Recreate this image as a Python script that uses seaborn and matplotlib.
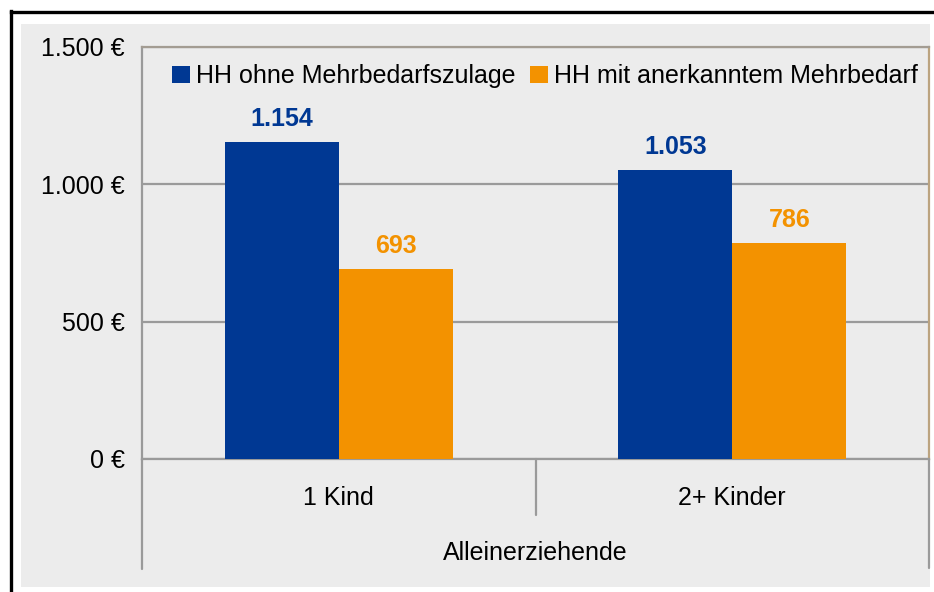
import pandas as pd
import matplotlib.pyplot as plt
import seaborn as sns
from matplotlib.lines import Line2D
from matplotlib.patches import Rectangle
from matplotlib.ticker import FuncFormatter

# Data
categories = ['1 Kind', '2+ Kinder']
series = ['HH ohne Mehrbedarfszulage', 'HH mit anerkanntem Mehrbedarf']
ohne_mehrbedarf = [1154, 1053]
mit_mehrbedarf = [693, 786]
yticks = [0, 500, 1000, 1500]
group_label = 'Alleinerziehende'

colors = ['#003893', '#f39200']
FS = 18

df = pd.DataFrame({
    'Kategorie': categories * 2,
    'Gruppe': [series[0]] * len(categories) + [series[1]] * len(categories),
    'Wert': ohne_mehrbedarf + mit_mehrbedarf,
})

sns.set_theme(style="white")
plt.rcParams['font.family'] = ['Liberation Sans', 'DejaVu Sans']
plt.rcParams['text.color'] = 'black'
plt.rcParams['xtick.color'] = 'black'
plt.rcParams['ytick.color'] = 'black'

W, H = 934, 592
fig = plt.figure(figsize=(W / 100, H / 100), dpi=100)
fig.patch.set_facecolor('white')


def fx(px):
    return px / W


def fy(py):
    return 1 - py / H


# grey panel and black frame
fig.add_artist(Rectangle((fx(21), fy(587)), fx(930) - fx(21), fy(24) - fy(587),
                         transform=fig.transFigure, facecolor='#ececec',
                         edgecolor='none', zorder=0))
fig.add_artist(Line2D([fx(10.5), fx(10.5)], [fy(11), 0], color='black', lw=2.4,
                      solid_capstyle='projecting'))
fig.add_artist(Line2D([fx(10.5), 1], [fy(11.5), fy(11.5)], color='black', lw=2.4,
                      solid_capstyle='projecting'))

ax = fig.add_axes([fx(142), fy(459), fx(929) - fx(142), fy(47) - fy(459)])
ax.set_facecolor('#ececec')

sns.barplot(data=df, x='Kategorie', y='Wert', hue='Gruppe', hue_order=series,
            order=categories, palette=colors, width=0.58, linewidth=0,
            saturation=1, ax=ax, zorder=3)

ax.set_xlim(-0.5, len(categories) - 0.5)
ax.set_ylim(yticks[0], yticks[-1])
ax.set_yticks(yticks)
ax.yaxis.set_major_formatter(FuncFormatter(lambda v, p: f"{v:,.0f} €".replace(',', '.')))
ax.set_xlabel('')
ax.set_ylabel('')

# grid and spines
ax.set_axisbelow(True)
ax.yaxis.grid(True, color='#9a9a9a', lw=1.6)
ax.xaxis.grid(False)
ax.spines['left'].set_color('#9a9a9a')
ax.spines['bottom'].set_color('#9a9a9a')
ax.spines['top'].set_color('#a39c92')
ax.spines['right'].set_color('#bba37f')
for s in ax.spines.values():
    s.set_linewidth(1.6)

ax.tick_params(axis='y', length=6.5, width=1.5, color='#9a9a9a', pad=6, labelsize=FS)
ax.tick_params(axis='x', length=0, pad=19.5, labelsize=FS)

# category separators below the axis
trans = ax.get_xaxis_transform()
for x, depth in [(-0.5, -0.267), (0.5, -0.136), (1.5, -0.265)]:
    ax.plot([x, x], [0, depth], transform=trans, clip_on=False,
            color='#9a9a9a', lw=1.6)

ax.text(0.5, -0.228, group_label, transform=ax.transAxes, ha='center',
        va='center', fontsize=FS)

# value labels
for cont, c in zip(ax.containers, colors):
    labels = [f"{v:,.0f}".replace(',', '.') for v in cont.datavalues]
    ax.bar_label(cont, labels=labels, padding=8, color=c, fontweight='bold',
                 fontsize=FS)

ax.legend(loc='center left', bbox_to_anchor=(30 / 787, (459 - 76) / 412),
          ncol=2, frameon=False, handlelength=0.7, handleheight=0.7,
          handletextpad=0.25, columnspacing=0.6, borderpad=0,
          borderaxespad=0, fontsize=FS)

plt.savefig('out.png', dpi=100)
plt.close()
